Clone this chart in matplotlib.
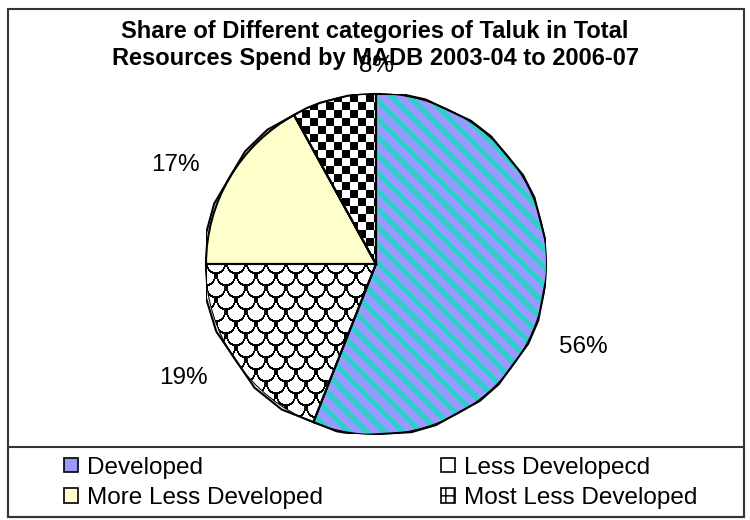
import numpy as np
import matplotlib
matplotlib.use('Agg')
import matplotlib.pyplot as plt
from matplotlib.patches import Rectangle

plt.rcParams['font.family'] = ['Liberation Sans', 'DejaVu Sans']

# data
categories = ['Developed', 'Less Developecd', 'More Less Developed', 'Most Less Developed']
shares = [56, 19, 17, 8]
pct_labels = ['56%', '19%', '17%', '8%']
colors = ['#9999FF', '#FFFFFF', '#FFFFCC', '#FFFFFF']
title = 'Share of Different categories of Taluk in Total\nResources Spend by MADB 2003-04 to 2006-07'

# label spots (in pie radius units), placed like the excel "best fit"
label_pos = [(1.22, -0.49), (-1.13, -0.67), (-1.18, 0.58), (0.0, 1.165)]

W, H = 750, 520
fig = plt.figure(figsize=(W / 100, H / 100), dpi=100)

# pie axes, 340 px square
cx, cy, r = 376, 256, 170
ax = fig.add_axes([(cx - r) / W, (cy - r) / H, 2 * r / W, 2 * r / H])
wedges, texts = ax.pie(shares, colors=colors, startangle=90, counterclock=False,
                       labels=pct_labels, labeldistance=1.2,
                       wedgeprops=dict(edgecolor='black', linewidth=1.5),
                       textprops=dict(fontsize=17.5))
for t, (px, py) in zip(texts, label_pos):
    t.set_position((px, py))
    t.set_ha('center')
    t.set_va('center')
ax.set_xlim(-1, 1)
ax.set_ylim(-1, 1)
ax.set_aspect('equal')
ax.axis('off')

# fill patterns, one pixel per screen pixel
n = 2 * r
rr, cc = np.mgrid[0:n, 0:n]

# teal diagonal stripes on the lavender slice
stripes = np.ones((n, n, 3))
stripes[:] = np.array([0x99, 0x99, 0xFF]) / 255
mask = ((cc - rr) % 18) < 7
stripes[mask] = np.array([0x33, 0xCC, 0xCC]) / 255

# fish-scale pattern (arcs hanging from each tile top, rows offset)
tw, th = 20, 12
shift = ((rr // th) % 2) * (tw // 2)
xl = (cc + shift) % tw
yl = rr % th
d = np.sqrt((xl - tw / 2 + 0.5) ** 2 + ((yl + 0.5) * 10 / th) ** 2)
scales = np.ones((n, n, 3))
scales[np.abs(d - 9.5) < 1.0] = 0

# checkerboard
checker = np.ones((n, n, 3))
checker[((rr // 8 + cc // 8) % 2) == 0] = 0

for wedge, img in zip(wedges, [stripes, scales, None, checker]):
    if img is None:
        continue
    im = ax.imshow(img, extent=[-1, 1, -1, 1], interpolation='nearest', zorder=wedge.get_zorder() + 0.1)
    im.set_clip_path(wedge)
# redraw outlines on top
for wedge in wedges:
    ax.add_patch(plt.Polygon(wedge.get_path().vertices, closed=True, fill=False,
                             edgecolor='black', linewidth=1.5, zorder=5,
                             transform=wedge.get_transform()))

fig.text(0.5, 1 - 45 / H, title, ha='center', va='center', fontsize=17,
         fontweight='bold', linespacing=1.25)

# outer border and legend frame
fig.patches.append(Rectangle((8 / W, 3 / H), 736 / W, 508 / H, transform=fig.transFigure,
                             fill=False, edgecolor='#333333', linewidth=1.5))
fig.patches.append(Rectangle((8 / W, 3 / H), 736 / W, 70 / H, transform=fig.transFigure,
                             fill=False, edgecolor='#333333', linewidth=1.5))

handles = [Rectangle((0, 0), 1, 1, facecolor=c, edgecolor='black', linewidth=1.2) for c in colors]
handles[3].set_hatch('++')
# excel fills the legend row by row
order = [0, 2, 1, 3]
fig.legend([handles[i] for i in order], [categories[i] for i in order],
           loc='center', bbox_to_anchor=(0.508, 37 / H), ncol=2,
           frameon=False, fontsize=17.5, handlelength=0.55, handleheight=0.55,
           handletextpad=0.4, labelspacing=0.35, columnspacing=4.85)

fig.savefig('out.png', dpi=100)
